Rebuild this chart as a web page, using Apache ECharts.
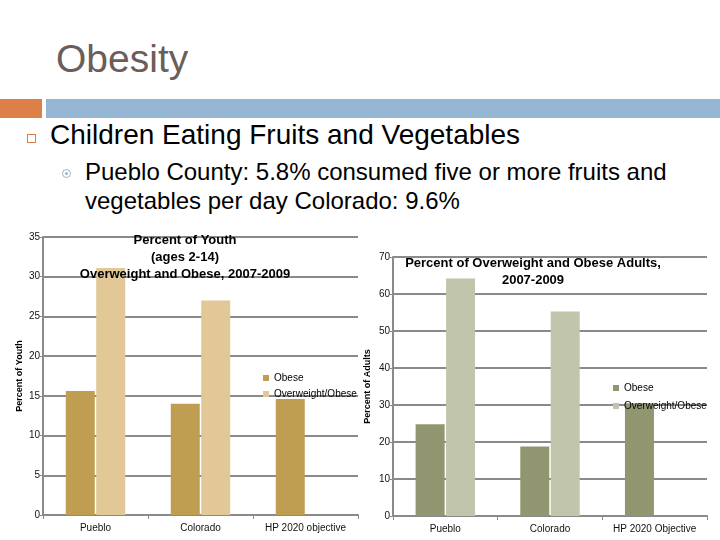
<!DOCTYPE html>
<html>
<head>
<meta charset="utf-8">
<script src="https://cdn.jsdelivr.net/npm/echarts@6/dist/echarts.min.js"></script>
<style>
  html, body { margin: 0; padding: 0; background: #fff; }
  #slide { position: relative; width: 720px; height: 540px; overflow: hidden; font-family: 'Liberation Sans', Arial, sans-serif; }
  .abs { position: absolute; white-space: nowrap; }
  #title { left: 56px; top: 39px; font-size: 39px; line-height: 39px; color: #6b5d58; }
  #barOrange { left: 0; top: 99px; width: 42px; height: 19px; background: #dd8047; }
  #barBlue { left: 46px; top: 99px; width: 674px; height: 19px; background: #94b6d2; }
  #sq { left: 27px; top: 134px; width: 7px; height: 7px; border: 1.5px solid #dd8047; }
  #lvl1 { left: 50px; top: 121px; font-size: 28px; line-height: 28px; color: #000; }
  #dot { left: 62px; top: 169px; width: 7px; height: 7px; border: 1px solid #94b6d2; border-radius: 50%; }
  #dot::after { content: ''; position: absolute; left: 2px; top: 2px; width: 3px; height: 3px; border-radius: 50%; background: #94b6d2; }
  #lvl2 { left: 85px; top: 157px; font-size: 24px; line-height: 29px; color: #000; }
  #youth { left: 0; top: 220px; width: 360px; height: 320px; }
  #adult { left: 360px; top: 220px; width: 360px; height: 320px; }
</style>
</head>
<body>
<div id="slide">
  <div id="title" class="abs">Obesity</div>
  <div id="barOrange" class="abs"></div>
  <div id="barBlue" class="abs"></div>
  <div id="sq" class="abs"></div>
  <div id="lvl1" class="abs">Children Eating Fruits and Vegetables</div>
  <div id="dot" class="abs"></div>
  <div id="lvl2" class="abs">Pueblo County: 5.8% consumed five or more fruits and<br>vegetables per day Colorado: 9.6%</div>
  <div id="youth" class="abs"></div>
  <div id="adult" class="abs"></div>
</div>
<script>
const youthCategories = ['Pueblo', 'Colorado', 'HP 2020 objective']
const youthObese = [15.6, 14.0, 14.6]
const youthOverweight = [31.1, 27.0, null]
const youthTicks = [0, 5, 10, 15, 20, 25, 30, 35]

const adultCategories = ['Pueblo', 'Colorado', 'HP 2020 Objective']
const adultObese = [24.8, 18.8, 30.5]
const adultOverweight = [64.2, 55.3, null]
const adultTicks = [0, 10, 20, 30, 40, 50, 60, 70]

const FONT = "'Liberation Sans', Arial, sans-serif"
const GRID_GRAY = '#8a8a8a'

function buildOption(cfg) {
  return {
    animation: false,
    textStyle: { fontFamily: FONT },
    grid: { ...cfg.grid, outerBoundsMode: 'none', containLabel: false },
    graphic: [
      {
        type: 'text',
        x: cfg.titleX,
        y: cfg.titleY,
        style: {
          text: cfg.title,
          font: 'bold 13px ' + FONT,
          fill: '#000',
          textAlign: 'center',
          textVerticalAlign: 'top',
          lineHeight: 17,
        },
        z: 10,
      },
    ],
    legend: {
      orient: 'vertical',
      left: cfg.legendLeft,
      top: cfg.legendTop,
      padding: 0,
      itemWidth: 6,
      itemHeight: 6,
      itemGap: cfg.legendGap,
      icon: 'rect',
      textStyle: { fontSize: 10, color: '#000', fontFamily: FONT },
      data: ['Obese', 'Overweight/Obese'],
    },
    xAxis: {
      type: 'category',
      data: cfg.categories,
      axisLine: { lineStyle: { color: GRID_GRAY, width: 2 } },
      axisTick: { show: true, length: 4, lineStyle: { color: GRID_GRAY } },
      axisLabel: { fontSize: 10, color: '#111', margin: 8, interval: 0 },
    },
    yAxis: {
      type: 'value',
      min: cfg.ticks[0],
      max: cfg.ticks[cfg.ticks.length - 1],
      interval: cfg.ticks[1] - cfg.ticks[0],
      name: cfg.yName,
      nameLocation: 'middle',
      nameGap: cfg.nameGap,
      nameMoveOverlap: false,
      nameTextStyle: { fontSize: 9, fontWeight: 'bold', color: '#000' },
      axisLine: { show: true, lineStyle: { color: GRID_GRAY, width: 2 } },
      axisTick: { show: true, length: 3, lineStyle: { color: GRID_GRAY } },
      axisLabel: { fontSize: 10, color: '#111', margin: 3 },
      splitLine: { lineStyle: { color: GRID_GRAY, width: 2 } },
    },
    series: [
      {
        name: 'Obese',
        type: 'bar',
        data: cfg.obese,
        barWidth: 29,
        barGap: '5%',
        itemStyle: { color: cfg.colors[0] },
      },
      {
        name: 'Overweight/Obese',
        type: 'bar',
        data: cfg.overweight,
        barWidth: 29,
        barGap: '5%',
        itemStyle: { color: cfg.colors[1] },
      },
    ],
  }
}

const youthChart = echarts.init(document.getElementById('youth'))
youthChart.setOption(buildOption({
  grid: { left: 43, right: 2, top: 17, bottom: 25 },
  title: 'Percent of Youth\n(ages 2-14)\nOverweight and Obese, 2007-2009',
  titleX: 185,
  titleY: 12,
  legendLeft: 263,
  legendTop: 153,
  legendGap: 6,
  categories: youthCategories,
  obese: youthObese,
  overweight: youthOverweight,
  ticks: youthTicks,
  yName: 'Percent of Youth',
  nameGap: 19,
  colors: ['#bf9e52', '#e1c896'],
}))

const adultChart = echarts.init(document.getElementById('adult'))
adultChart.setOption(buildOption({
  grid: { left: 33, right: 13, top: 37, bottom: 24 },
  title: 'Percent of Overweight and Obese Adults,\n2007-2009',
  titleX: 173,
  titleY: 35,
  legendLeft: 253,
  legendTop: 163,
  legendGap: 8,
  categories: adultCategories,
  obese: adultObese,
  overweight: adultOverweight,
  ticks: adultTicks,
  yName: 'Percent of Adults',
  nameGap: 21,
  colors: ['#919670', '#c1c5ab'],
}))
</script>
</body>
</html>
